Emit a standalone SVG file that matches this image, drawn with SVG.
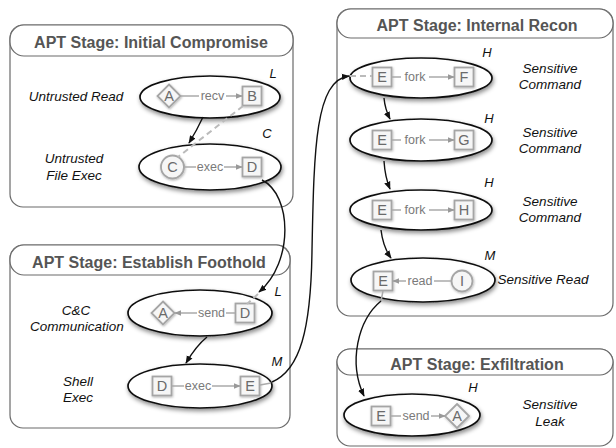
<svg xmlns="http://www.w3.org/2000/svg" width="616" height="448" viewBox="0 0 616 448">
<style>
.panel{fill:none;stroke:#6a6a6a;stroke-width:1.2}
.hdr{fill:#fff;stroke:#6a6a6a;stroke-width:1.2}
.title{font-family:"Liberation Sans",Arial,sans-serif;font-size:16px;font-weight:bold;fill:#555;text-anchor:middle}
.ell{fill:#fff;stroke:#111;stroke-width:1.7}
.nd{fill:#f6f6f6;stroke:#a5a5a5;stroke-width:1.8}
.nt{font-family:"Liberation Sans",Arial,sans-serif;font-size:14.5px;fill:#6a6a6a;text-anchor:middle}
.et{font-family:"Liberation Sans",Arial,sans-serif;font-size:12.5px;fill:#7a7a7a;text-anchor:middle}
.el{stroke:#aaa;stroke-width:1.5;fill:none}
.side{font-family:"Liberation Sans",Arial,sans-serif;font-size:13.5px;font-style:italic;fill:#111;text-anchor:middle}
.lvl{font-family:"Liberation Sans",Arial,sans-serif;font-size:13px;font-style:italic;fill:#111;text-anchor:middle}
.conn{stroke:#111;stroke-width:1.4;fill:none}
.dash{stroke:#bbb;stroke-width:2;fill:none;stroke-dasharray:6 4}
</style>
<defs>
<filter id="sh" x="-20%" y="-30%" width="140%" height="170%"><feDropShadow dx="1" dy="2.5" stdDeviation="2" flood-color="#000" flood-opacity="0.45"/></filter>
<filter id="nsh" x="-30%" y="-30%" width="160%" height="160%"><feDropShadow dx="0.6" dy="1" stdDeviation="0.8" flood-color="#000" flood-opacity="0.3"/></filter>
<marker id="ab" viewBox="0 0 10 10" refX="9" refY="5" markerWidth="8" markerHeight="8" markerUnits="userSpaceOnUse" orient="auto"><path d="M0,1 L10,5 L0,9 z" fill="#111"/></marker>
<marker id="ag" viewBox="0 0 10 10" refX="9" refY="5" markerWidth="7" markerHeight="7" markerUnits="userSpaceOnUse" orient="auto"><path d="M0,1 L10,5 L0,9 z" fill="#999"/></marker>
</defs>

<g id="panel-initial">
<rect class="panel" x="10" y="25" width="283" height="182" rx="13"/>
<rect class="hdr" x="10" y="25" width="283" height="31" rx="14"/>
<text class="title" x="151" y="48">APT Stage: Initial Compromise</text>
</g>
<g id="panel-foothold">
<rect class="panel" x="10" y="245" width="280" height="183" rx="13"/>
<rect class="hdr" x="10" y="245" width="280" height="30" rx="14"/>
<text class="title" x="149" y="268">APT Stage: Establish Foothold</text>
</g>
<g id="panel-recon">
<rect class="panel" x="337" y="9" width="276" height="307" rx="13"/>
<rect class="hdr" x="337" y="9" width="276" height="29" rx="14"/>
<text class="title" x="477" y="31">APT Stage: Internal Recon</text>
</g>
<g id="panel-exfil">
<rect class="panel" x="337" y="349" width="276" height="97" rx="13"/>
<rect class="hdr" x="337" y="349" width="276" height="26" rx="13"/>
<text class="title" x="477" y="370">APT Stage: Exfiltration</text>
</g>

<g id="n-untrusted-read">
<ellipse class="ell" cx="210" cy="97" rx="70" ry="21" filter="url(#sh)"/>
<path class="nd" d="M169,84.5 L180.5,96 L169,107.5 L157.5,96 z" filter="url(#nsh)"/>
<text class="nt" x="169" y="101">A</text>
<rect class="nd" x="242.5" y="86.5" width="19" height="19" filter="url(#nsh)"/>
<text class="nt" x="252" y="101">B</text>
<line class="el" x1="181" y1="96" x2="199" y2="96"/>
<text class="et" x="212.5" y="100">recv</text>
<line class="el" x1="226" y1="96" x2="242" y2="96" marker-end="url(#ag)"/>
<text class="lvl" x="273" y="78">L</text>
<text class="side" x="76" y="101">Untrusted Read</text>
</g>

<g id="n-untrusted-exec">
<ellipse class="ell" cx="210" cy="167" rx="71" ry="23" filter="url(#sh)"/>
<circle class="nd" cx="172.5" cy="167" r="11.5" filter="url(#nsh)"/>
<text class="nt" x="172.5" y="172">C</text>
<rect class="nd" x="242.5" y="157.5" width="19" height="19" filter="url(#nsh)"/>
<text class="nt" x="252" y="172">D</text>
<line class="el" x1="184" y1="167" x2="196" y2="167"/>
<text class="et" x="210" y="171">exec</text>
<line class="el" x1="224" y1="167" x2="242" y2="167" marker-end="url(#ag)"/>
<text class="lvl" x="267" y="138">C</text>
<text class="side" x="74" y="163">Untrusted</text>
<text class="side" x="74" y="180">File Exec</text>
</g>

<g id="n-cc">
<ellipse class="ell" cx="200" cy="313" rx="72" ry="23" filter="url(#sh)"/>
<path class="nd" d="M163,301.5 L174.5,313 L163,324.5 L151.5,313 z" filter="url(#nsh)"/>
<text class="nt" x="163" y="318">A</text>
<rect class="nd" x="235.5" y="303.5" width="19" height="19" filter="url(#nsh)"/>
<text class="nt" x="245" y="318">D</text>
<line class="el" x1="235" y1="313" x2="226" y2="313"/>
<text class="et" x="211.5" y="317">send</text>
<line class="el" x1="197" y1="313" x2="175" y2="313" marker-end="url(#ag)"/>
<text class="lvl" x="278" y="296">L</text>
<text class="side" x="76" y="315">C&amp;C</text>
<text class="side" x="77" y="331">Communication</text>
</g>

<g id="n-shell">
<ellipse class="ell" cx="200" cy="386" rx="72" ry="22" filter="url(#sh)"/>
<rect class="nd" x="152.5" y="376.5" width="19" height="19" filter="url(#nsh)"/>
<text class="nt" x="162" y="391">D</text>
<rect class="nd" x="240.5" y="376.5" width="19" height="19" filter="url(#nsh)"/>
<text class="nt" x="250" y="391">E</text>
<line class="el" x1="172" y1="386" x2="184" y2="386"/>
<text class="et" x="198" y="390">exec</text>
<line class="el" x1="212" y1="386" x2="240" y2="386" marker-end="url(#ag)"/>
<line class="el" x1="260" y1="385" x2="271" y2="383"/>
<text class="lvl" x="277" y="366">M</text>
<text class="side" x="78" y="386">Shell</text>
<text class="side" x="78" y="402">Exec</text>
</g>

<g id="n-cmd1">
<ellipse class="ell" cx="421" cy="78" rx="71" ry="20" filter="url(#sh)"/>
<rect class="nd" x="372.5" y="67.5" width="19" height="19" filter="url(#nsh)"/>
<text class="nt" x="382" y="82">E</text>
<rect class="nd" x="454.5" y="67.5" width="19" height="19" filter="url(#nsh)"/>
<text class="nt" x="464" y="82">F</text>
<line class="el" x1="392" y1="77" x2="401" y2="77"/>
<text class="et" x="415" y="81">fork</text>
<line class="el" x1="429" y1="77" x2="454" y2="77" marker-end="url(#ag)"/>
<text class="lvl" x="487" y="57">H</text>
<text class="side" x="550" y="73">Sensitive</text>
<text class="side" x="550" y="89">Command</text>
</g>

<g id="n-cmd2">
<ellipse class="ell" cx="421" cy="140" rx="71" ry="21" filter="url(#sh)"/>
<rect class="nd" x="372.5" y="130.5" width="19" height="19" filter="url(#nsh)"/>
<text class="nt" x="382" y="145">E</text>
<rect class="nd" x="454.5" y="130.5" width="19" height="19" filter="url(#nsh)"/>
<text class="nt" x="464" y="145">G</text>
<line class="el" x1="392" y1="140" x2="401" y2="140"/>
<text class="et" x="415" y="144">fork</text>
<line class="el" x1="429" y1="140" x2="454" y2="140" marker-end="url(#ag)"/>
<text class="lvl" x="489" y="123">H</text>
<text class="side" x="550" y="137">Sensitive</text>
<text class="side" x="550" y="153">Command</text>
</g>

<g id="n-cmd3">
<ellipse class="ell" cx="421" cy="210" rx="71" ry="20" filter="url(#sh)"/>
<rect class="nd" x="372.5" y="200.5" width="19" height="19" filter="url(#nsh)"/>
<text class="nt" x="382" y="215">E</text>
<rect class="nd" x="454.5" y="200.5" width="19" height="19" filter="url(#nsh)"/>
<text class="nt" x="464" y="215">H</text>
<line class="el" x1="392" y1="210" x2="401" y2="210"/>
<text class="et" x="415" y="214">fork</text>
<line class="el" x1="429" y1="210" x2="454" y2="210" marker-end="url(#ag)"/>
<text class="lvl" x="489" y="187">H</text>
<text class="side" x="550" y="206">Sensitive</text>
<text class="side" x="550" y="222">Command</text>
</g>

<g id="n-read">
<ellipse class="ell" cx="423" cy="280" rx="72" ry="22" filter="url(#sh)"/>
<rect class="nd" x="373.5" y="271.5" width="19" height="19" filter="url(#nsh)"/>
<text class="nt" x="383" y="286">E</text>
<circle class="nd" cx="462" cy="281" r="10.5" filter="url(#nsh)"/>
<text class="nt" x="462" y="286">I</text>
<line class="el" x1="451" y1="281" x2="434" y2="281"/>
<text class="et" x="420" y="285">read</text>
<line class="el" x1="406" y1="281" x2="393" y2="281" marker-end="url(#ag)"/>
<line class="el" x1="383" y1="291" x2="381" y2="301"/>
<text class="lvl" x="490" y="260">M</text>
<text class="side" x="543" y="284">Sensitive Read</text>
</g>

<g id="n-leak">
<ellipse class="ell" cx="412" cy="415" rx="68" ry="21" filter="url(#sh)"/>
<rect class="nd" x="371.5" y="406.5" width="19" height="19" filter="url(#nsh)"/>
<text class="nt" x="381" y="421">E</text>
<path class="nd" d="M457,404 L469,416 L457,428 L445,416 z" filter="url(#nsh)"/>
<text class="nt" x="457" y="421">A</text>
<line class="el" x1="391" y1="416" x2="401" y2="416"/>
<text class="et" x="416" y="420">send</text>
<line class="el" x1="431" y1="416" x2="445" y2="416" marker-end="url(#ag)"/>
<text class="lvl" x="473" y="392">H</text>
<text class="side" x="550" y="409">Sensitive</text>
<text class="side" x="550" y="426">Leak</text>
</g>

<g id="connectors">
<path class="dash" d="M243,106 L178,157"/>
<path class="conn" d="M203,117 Q197,130 189,143" marker-end="url(#ab)"/>
<path class="conn" d="M262,180 C292,195 294,262 259,292" marker-end="url(#ab)"/>
<path class="dash" d="M258,294 L247,304"/>
<path class="conn" d="M207,337 Q196,346 186,363" marker-end="url(#ab)"/>
<path class="conn" d="M272,382 C300,370 311,330 312,250 C314,150 315,80 349,76" marker-end="url(#ab)"/>
<path class="dash" d="M350,76 L372,76"/>
<path class="conn" d="M384,98 Q385,109 390,119" marker-end="url(#ab)"/>
<path class="conn" d="M384,161 Q385,177 390,189" marker-end="url(#ab)"/>
<path class="conn" d="M381,230 Q383,247 391,258" marker-end="url(#ab)"/>
<path class="conn" d="M381,301 C358,320 348,362 364,396" marker-end="url(#ab)"/>
</g>
</svg>
